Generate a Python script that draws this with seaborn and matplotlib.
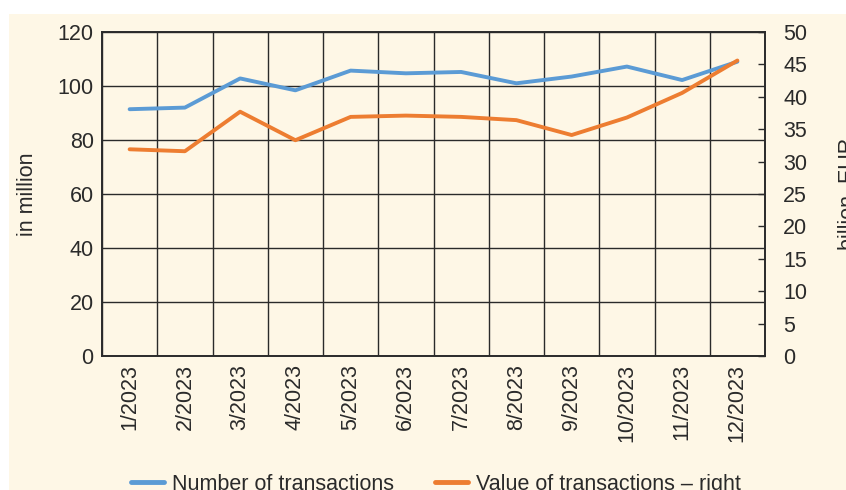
import matplotlib
matplotlib.use("Agg")
import matplotlib.pyplot as plt
import numpy as np
import pandas as pd
import seaborn as sns
from matplotlib.patches import Rectangle
from matplotlib.ticker import FixedLocator, MultipleLocator

MONTHS = ["1/2023", "2/2023", "3/2023", "4/2023", "5/2023", "6/2023",
          "7/2023", "8/2023", "9/2023", "10/2023", "11/2023", "12/2023"]
# number of transactions, in million (left axis)
NUMBER = [91.4, 92.0, 102.8, 98.4, 105.7, 104.7, 105.2, 101.0, 103.5, 107.2, 102.2, 109.0]
# value of transactions, billion EUR (right axis)
VALUE = [31.9, 31.6, 37.7, 33.3, 36.9, 37.1, 36.9, 36.4, 34.1, 36.8, 40.6, 45.6]

BG = "#FEF7E6"
INK = "#2a2a2a"
BLUE = "#5B9BD5"
ORANGE = "#ED7D31"
FS = 15.5

sns.set_style("white")
plt.rcParams["font.family"] = ["Liberation Sans", "DejaVu Sans"]
plt.rcParams["font.size"] = FS

df = pd.DataFrame({"month": MONTHS, "number": NUMBER, "value": VALUE})

fig = plt.figure(figsize=(8.46, 4.90), dpi=100, facecolor="white")
# cream panel, with a thin white margin on the left and top
fig.add_artist(Rectangle((9 / 846, 0), 1, 1 - 14 / 490, transform=fig.transFigure,
                         facecolor=BG, edgecolor="none", zorder=-10))

ax = fig.add_axes([102 / 846, 1 - 356 / 490, 663 / 846, 324 / 490])
ax.set_facecolor(BG)
ax2 = ax.twinx()

sns.lineplot(data=df, x="month", y="number", ax=ax, color=BLUE, lw=2.8,
             label="Number of transactions", legend=False)
sns.lineplot(data=df, x="month", y="value", ax=ax2, color=ORANGE, lw=2.8,
             label="Value of transactions – right", legend=False)

ax.set_xlim(-0.5, len(MONTHS) - 0.5)
ax.set_ylim(0, 120)
ax2.set_ylim(0, 50)
ax.yaxis.set_major_locator(MultipleLocator(20))
ax2.yaxis.set_major_locator(MultipleLocator(5))

ax.xaxis.set_minor_locator(FixedLocator(np.arange(-0.5, len(MONTHS), 1.0)))
ax.grid(True, which="minor", axis="x", color=INK, lw=1.0)
ax.grid(True, which="major", axis="y", color=INK, lw=1.0)
ax.grid(False, which="major", axis="x")
ax2.grid(False)

ax.set_xticks(range(len(MONTHS)))
ax.set_xticklabels(MONTHS, rotation=90)
ax.tick_params(axis="x", which="both", length=0, pad=6, colors=INK, labelsize=FS)
ax.tick_params(axis="y", length=0, pad=6, colors=INK, labelsize=FS)
ax2.tick_params(axis="y", direction="in", length=5, width=1, pad=13, colors=INK, labelsize=FS)

for a in (ax, ax2):
    for s in a.spines.values():
        s.set_color(INK)
        s.set_linewidth(1.2)

ax.set_xlabel("")
ax.set_ylabel("in million", color=INK, fontsize=FS)
ax.yaxis.set_label_coords((38 - 102) / 663, 0.5)
ax2.set_ylabel("billion  EUR", color=INK, fontsize=FS)
ax2.yaxis.set_label_coords((838 - 102) / 663, 0.5)

h1, l1 = ax.get_legend_handles_labels()
h2, l2 = ax2.get_legend_handles_labels()
leg = fig.legend(h1 + h2, l1 + l2, loc="center left", ncol=2, frameon=False,
                 bbox_to_anchor=(131 / 846, 1 - 484 / 490), borderaxespad=0,
                 borderpad=0, handlelength=1.55, handletextpad=0.35,
                 columnspacing=1.9, fontsize=FS)
for t in leg.get_texts():
    t.set_color(INK)
for h in leg.legend_handles:
    h.set_linewidth(3.5)

fig.savefig("out.png", dpi=100, facecolor="white")
